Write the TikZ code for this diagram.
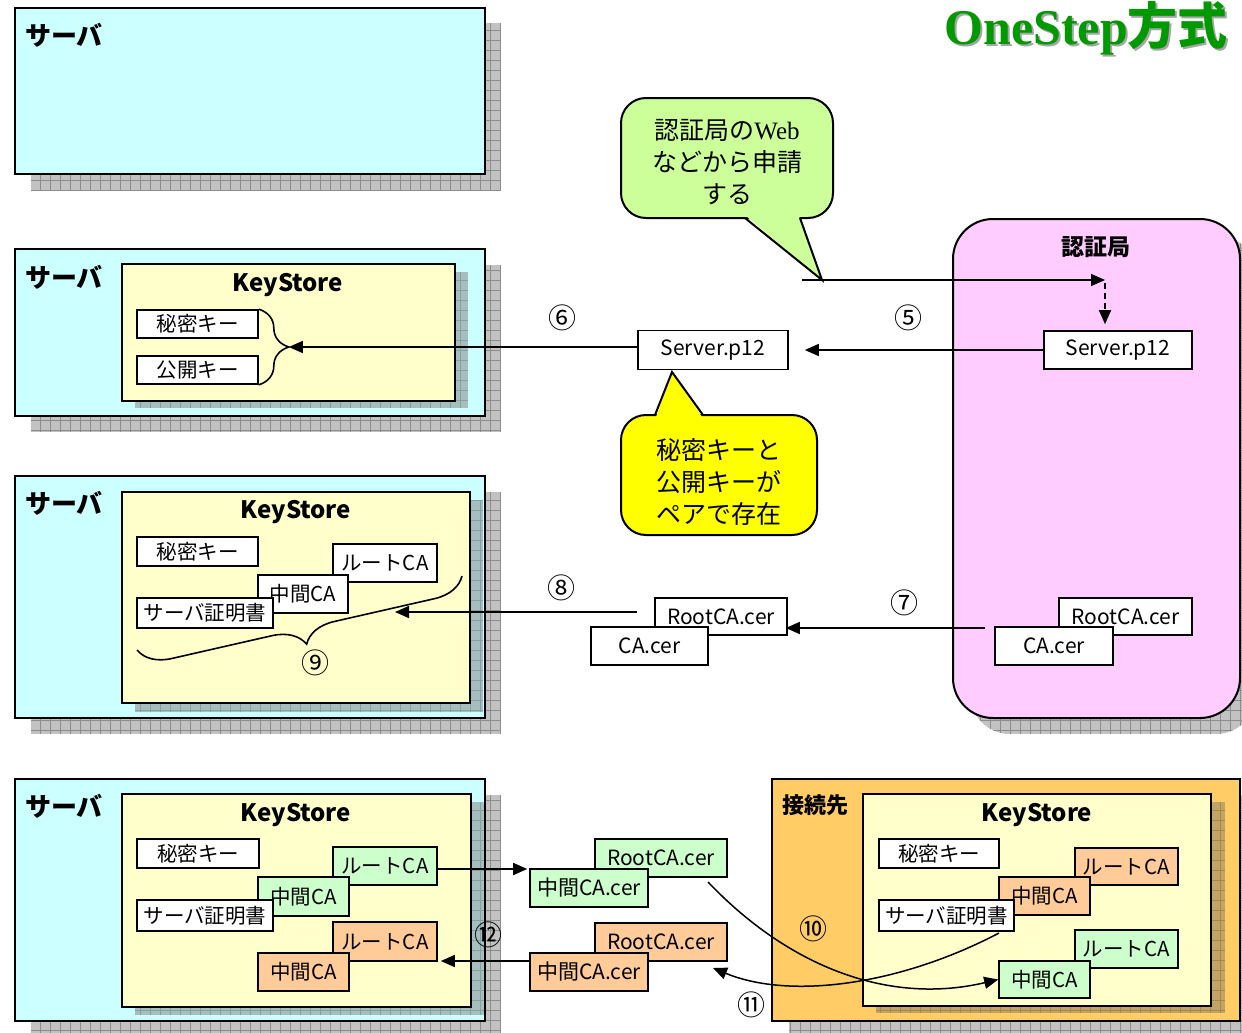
\documentclass[tikz,border=0pt]{standalone}
\usepackage{fontspec}
\setmainfont{Noto Sans CJK JP}
\newfontfamily\serifweb{Liberation Serif}
\newfontfamily\titleserif{Liberation Serif}
\usetikzlibrary{arrows.meta,decorations.pathreplacing}

\definecolor{srvcyan}{HTML}{CCFFFF}
\definecolor{ksyellow}{HTML}{FFFFCC}
\definecolor{capink}{HTML}{FFCCFF}
\definecolor{peerorange}{HTML}{FFCC66}
\definecolor{certgreen}{HTML}{CCFFCC}
\definecolor{certorange}{HTML}{FFCC99}
\definecolor{tipgreen}{HTML}{CCFF99}
\definecolor{tipyellow}{HTML}{FFFF00}
\definecolor{titlegreen}{HTML}{009900}
\definecolor{shadegray}{HTML}{C2C2C2}
\definecolor{shadeline}{HTML}{8C8C8C}
\definecolor{kshade}{HTML}{A6BEBE}
\definecolor{kshadeline}{HTML}{889F9F}
\definecolor{pshade}{HTML}{C2A466}
\definecolor{pshadeline}{HTML}{A08850}

% grid-textured drop shadow: fill, line colour, corner radius, two corners
\newcommand\gridshade[5]{%
  \begin{scope}
    \clip[rounded corners=#3] #4 rectangle #5;
    \fill[#1] #4 rectangle #5;
    \draw[#2, line width=0.5pt, step=10pt] #4 grid #5;
  \end{scope}}

\tikzset{
  outerbox/.style={draw, line width=2pt, fill=srvcyan, inner sep=0pt},
  ksbox/.style={draw, line width=2pt, fill=ksyellow, inner sep=0pt},
  item/.style={draw, line width=1.6pt, fill=white, inner sep=0pt,
    font=\fontsize{20.5}{22}\selectfont},
  greenitem/.style={item, fill=certgreen},
  orangeitem/.style={item, fill=certorange},
  fileitem/.style={item, font=\fontsize{21}{22}\selectfont},
  heading/.style={font=\bfseries\fontsize{26}{28}\selectfont, inner sep=0pt, anchor=west},
  kstitle/.style={font=\bfseries\fontsize{24}{26}\selectfont, inner sep=0pt},
  num/.style={font=\fontsize{28}{30}\selectfont, inner sep=0pt},
  tiptext/.style={font=\fontsize{25}{32}\selectfont, align=center, inner sep=0pt},
  arr/.style={line width=1.5pt, -{Triangle[length=14pt,width=12pt]}},
  bracestyle/.style={line width=1.6pt, decorate},
}

\begin{document}
\begin{tikzpicture}[x=1pt, y=-1pt]
\useasboundingbox (0,0) rectangle (1242,1033);

% ---------- title ----------
\node[inner sep=0pt, anchor=base east, text=gray!70] at (1230,47)
  {\bfseries\fontsize{50}{53}\selectfont{\titleserif OneStep}方式};
\node[inner sep=0pt, anchor=base east, text=titlegreen] (title) at (1228,45)
  {\bfseries\fontsize{50}{53}\selectfont{\titleserif OneStep}方式};

% ---------- row 1: server before the request ----------
\gridshade{shadegray}{shadeline}{0pt}{(31,23)}{(501,191)}
\node[outerbox, minimum width=470pt, minimum height=166pt] (srv1) at (250,91) {};
\node[heading] (srv1lbl) at (25,35) {サーバ};

% ---------- certificate authority ----------
\gridshade{shadegray}{shadeline}{40pt}{(970,235)}{(1256,734)}
\node[draw, line width=2pt, fill=capink, rounded corners=40pt,
      minimum width=287pt, minimum height=499pt, inner sep=0pt] (ca) at (1096.5,468.5) {};
\node[font=\bfseries\fontsize{23}{25}\selectfont, inner sep=0pt] (calbl) at (1096,247) {認証局};
\node[fileitem, minimum width=148pt, minimum height=38pt] (p12ca) at (1118,350) {Server.p12};
\node[fileitem, minimum width=133pt, minimum height=37pt] (rootca) at (1125.5,616.5) {RootCA.cer};
\node[fileitem, minimum width=118pt, minimum height=38pt] (caca) at (1054,646) {CA.cer};

% ---------- row 2: server receives the key pair ----------
\gridshade{shadegray}{shadeline}{0pt}{(31,265)}{(501,432)}
\node[outerbox, minimum width=470pt, minimum height=167pt] (srv2) at (250,332.5) {};
\node[heading] (srv2lbl) at (25,277) {サーバ};
\gridshade{kshade}{kshadeline}{0pt}{(135,272)}{(468,408)}
\node[ksbox, minimum width=333pt, minimum height=137pt] (ks2) at (288.5,332.5) {};
\node[kstitle] (ks2lbl) at (288,285) {KeyStore};
\node[item, minimum width=121pt, minimum height=28pt] (priv2) at (197.5,324) {秘密キー};
\node[item, minimum width=121pt, minimum height=28pt] (pub2) at (197.5,370) {公開キー};
\draw[bracestyle, decoration={brace, amplitude=30pt}] (priv2.north east) -- (pub2.south east)
  coordinate[pos=0.5, xshift=30pt] (brace2tip);

\node[fileitem, minimum width=150pt, minimum height=39pt] (p12mid) at (713,350) {Server.p12};
\node[num] (n6) at (562,318) {⑥};
\node[num] (n5) at (908,318) {⑤};

% request from the web form
\coordinate (reqstart) at (802,280);
\coordinate (reqend) at (1105,280);
\draw[arr] (reqstart) -- (reqend);
\draw[arr, dashed, dash pattern=on 6pt off 4pt] ([yshift=-3pt]reqend) -- (reqend |- p12ca.north)
  [shorten >=6pt];
\draw[arr] (p12ca.west) -- (p12mid.east) [shorten >=16pt];
\draw[arr] (p12mid.west |- brace2tip) -- (brace2tip);

% callout: application through the CA's web site
\node[draw, line width=2pt, fill=tipgreen, rounded corners=25pt,
      minimum width=212pt, minimum height=120pt, inner sep=0pt] (webtip) at (727,158) {};
\fill[tipgreen] (746,216) -- (822,280) -- (799,216) -- cycle;
\draw[line width=2pt, line join=miter] (745,218) -- (reqstart -| 822,0) -- (800,218);
\node[tiptext] (webtiptxt) at (727,162) {認証局の{\serifweb Web}\\などから申請\\する};

% callout: key pair
\node[draw, line width=2pt, fill=tipyellow, rounded corners=25pt,
      minimum width=196pt, minimum height=120pt, inner sep=0pt] (pairtip) at (719,475) {};
\fill[tipyellow] (656,417) -- (672,372) -- (702,417) -- cycle;
\draw[line width=2pt, line join=miter] (655,415) -- (672,372) -- (703,415);
\node[tiptext] (pairtiptxt) at (719,482) {秘密キーと\\公開キーが\\ペアで存在};

% ---------- row 3: server imports the CA chain ----------
\gridshade{shadegray}{shadeline}{0pt}{(31,492)}{(501,734)}
\node[outerbox, minimum width=470pt, minimum height=242pt] (srv3) at (250,597) {};
\node[heading] (srv3lbl) at (25,503) {サーバ};
\gridshade{kshade}{kshadeline}{0pt}{(135,500)}{(483,712)}
\node[ksbox, minimum width=348pt, minimum height=211pt] (ks3) at (296,597.5) {};
\node[kstitle] (ks3lbl) at (296,512) {KeyStore};
\node[item, minimum width=121pt, minimum height=29pt] (priv3) at (197.5,551.5) {秘密キー};
\node[item, minimum width=104pt, minimum height=38pt] (root3) at (385,563) {ルートCA};
\node[item, minimum width=90pt, minimum height=38pt] (mid3) at (303,594) {中間CA};
\node[item, minimum width=136pt, minimum height=30pt] (cert3) at (205,613) {サーバ証明書};
\coordinate (b9start) at (462,576);
\coordinate (b9end) at (137,650);
\draw[bracestyle, decoration={brace, amplitude=32pt}] (b9start) -- (b9end);
\node[num] (n9) at (315,663) {⑨};

\node[fileitem, minimum width=132pt, minimum height=37pt] (rootmid) at (721,616.5) {RootCA.cer};
\node[fileitem, minimum width=117pt, minimum height=38pt] (camid) at (649.5,646) {CA.cer};
\node[num] (n8) at (561,588) {⑧};
\node[num] (n7) at (904,603) {⑦};
\coordinate (s7) at (985,628);
\draw[arr] (s7) -- (s7 -| rootmid.east) [shorten >=-2pt];
\coordinate (s8) at (637,612);
\coordinate (t8) at (395,612);
\draw[arr] (s8) -- (t8);

% ---------- row 4: exchange of CA chains with the peer ----------
\gridshade{shadegray}{shadeline}{0pt}{(31,795)}{(501,1033)}
\node[outerbox, minimum width=470pt, minimum height=242pt] (srv4) at (250,900) {};
\node[heading] (srv4lbl) at (25,806) {サーバ};
\gridshade{kshade}{kshadeline}{0pt}{(135,802)}{(484,1015)}
\node[ksbox, minimum width=349pt, minimum height=213pt] (ks4) at (296.5,900.5) {};
\node[kstitle] (ks4lbl) at (296,815) {KeyStore};
\node[item, minimum width=122pt, minimum height=29pt] (priv4) at (198,853.5) {秘密キー};
\node[greenitem, minimum width=104pt, minimum height=38pt] (root4g) at (385,866) {ルートCA};
\node[greenitem, minimum width=91pt, minimum height=39pt] (mid4g) at (303.5,896.5) {中間CA};
\node[item, minimum width=136pt, minimum height=31pt] (cert4) at (205,915.5) {サーバ証明書};
\node[orangeitem, minimum width=104pt, minimum height=39pt] (root4o) at (385,941.5) {ルートCA};
\node[orangeitem, minimum width=91pt, minimum height=38pt] (mid4o) at (303.5,972) {中間CA};

% peer system
\gridshade{shadegray}{shadeline}{0pt}{(789,795)}{(1256,1037)}
\node[draw, line width=2pt, fill=peerorange, inner sep=0pt,
      minimum width=468pt, minimum height=242pt] (peer) at (1006,900) {};
\node[font=\bfseries\fontsize{22}{24}\selectfont, inner sep=0pt, anchor=west] (peerlbl) at (782,805) {接続先};
\gridshade{pshade}{pshadeline}{0pt}{(876,802)}{(1225,1013)}
\node[ksbox, minimum width=348pt, minimum height=212pt] (ks5) at (1037,900) {};
\node[kstitle] (ks5lbl) at (1037,815) {KeyStore};
\node[item, minimum width=120pt, minimum height=29pt] (priv5) at (939,853.5) {秘密キー};
\node[orangeitem, minimum width=103pt, minimum height=37pt] (root5o) at (1126.5,866.5) {ルートCA};
\node[orangeitem, minimum width=91pt, minimum height=38pt] (mid5o) at (1044.5,896) {中間CA};
\node[item, minimum width=135pt, minimum height=31pt] (cert5) at (946.5,915.5) {サーバ証明書};
\node[greenitem, minimum width=103pt, minimum height=38pt] (root5g) at (1126.5,949) {ルートCA};
\node[greenitem, minimum width=91pt, minimum height=37pt] (mid5g) at (1044.5,979.5) {中間CA};

% files in transit
\node[greenitem, fileitem, fill=certgreen, minimum width=132pt, minimum height=38pt] (rootg) at (661,858) {RootCA.cer};
\node[greenitem, fileitem, fill=certgreen, minimum width=118pt, minimum height=38pt] (midg) at (589,888) {中間CA.cer};
\node[orangeitem, fileitem, fill=certorange, minimum width=132pt, minimum height=38pt] (rooto) at (661,942) {RootCA.cer};
\node[orangeitem, fileitem, fill=certorange, minimum width=118pt, minimum height=38pt] (mido) at (589,972) {中間CA.cer};

\draw[arr] ([yshift=-3pt]root4g.east) -- ([yshift=-3pt]root4g.east -| midg.west) [shorten >=2pt];
\coordinate (s12) at (530,961);
\draw[arr] (s12) -- (s12 -| root4o.east) [shorten >=3pt];
\node[num] (n12) at (488,935) {⑫};

\coordinate (s10) at (708,882);
\draw[arr] (s10) .. controls (790,968) and (890,1005) .. (mid5g.west);
\node[num] (n10) at (813,929) {⑩};

\coordinate (s11) at (999,933);
\coordinate (t11) at (713,968);
\draw[arr] (s11) .. controls (900,985) and (790,1000) .. (t11);
\node[num] (n11) at (751,1005) {⑪};
\end{tikzpicture}
\end{document}
